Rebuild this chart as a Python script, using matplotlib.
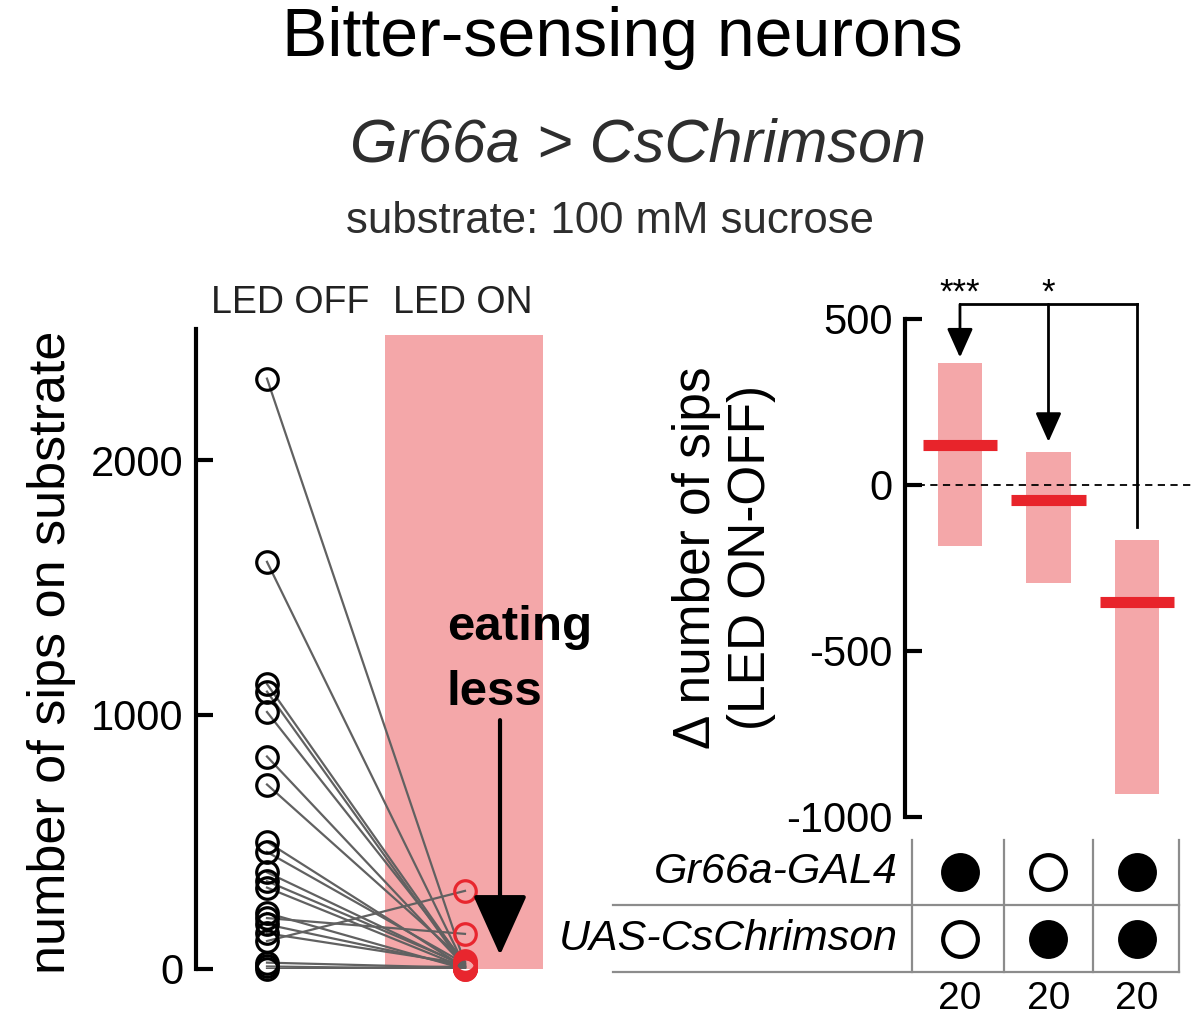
import matplotlib
matplotlib.use('Agg')
import matplotlib.pyplot as plt
from matplotlib.patches import Rectangle

plt.rcParams['font.family'] = ['Liberation Sans', 'DejaVu Sans']

# paired sips per fly (LED OFF -> LED ON)
sips_off = [2320, 1600, 1120, 1090, 1010, 835, 725, 500, 460, 380,
            345, 320, 220, 200, 175, 140, 110, 25, 10, 0]
sips_on = [20, 10, 15, 5, 25, 10, 30, 5, 20, 10,
           15, 5, 0, 138, 10, 20, 307, 5, 0, 10]

# delta (ON - OFF) per genotype: mean and 95% CI
genotypes = ['Gr66a-GAL4 / +', '+ / UAS-CsChrimson', 'Gr66a > CsChrimson']
delta_mean = [120, -45, -353]
delta_low = [-184, -295, -931]
delta_high = [368, 99, -165]
stars = ['***', '*']
gal4 = [1, 0, 1]
uas = [0, 1, 1]
n_flies = [20, 20, 20]

PINK = '#f4a7a9'
RED = '#e8242b'
W, H = 1200, 1023

fig = plt.figure(figsize=(W / 100, H / 100), dpi=100)


def px(x, y, w, h):
    return [x / W, 1 - (y + h) / H, w / W, h / H]


# ---- left panel: paired sips ----
ax = fig.add_axes(px(196, 329, 364, 640))
ax.set_xlim(-0.3586, 1.48)
ax.set_ylim(0, 2515)
ax.add_patch(Rectangle((0.596, -4), 0.798, 2494, color=PINK, lw=0, zorder=0))
for a, b in zip(sips_off, sips_on):
    ax.plot([0, 1], [a, b], color='#616161', lw=1.6, zorder=2)
ax.plot([0] * len(sips_off), sips_off, 'o', mfc='none', mec='k', ms=15.5, mew=2.3,
        clip_on=False, zorder=3)
ax.plot([1] * len(sips_on), sips_on, 'o', mfc='none', mec='#e8262e', ms=15.5, mew=2.3,
        clip_on=False, zorder=3)
for s in ['top', 'right', 'bottom']:
    ax.spines[s].set_visible(False)
ax.spines['left'].set_linewidth(3)
ax.set_xticks([])
ax.set_yticks([0, 1000, 2000])
ax.tick_params(axis='y', direction='in', length=12, width=3, labelsize=30, pad=9)
ax.annotate('', xy=(1.177, 55), xytext=(1.177, 978),
            arrowprops=dict(arrowstyle='-|>,head_length=1.0,head_width=0.45',
                            mutation_scale=38, lw=3, color='k',
                            shrinkA=0, shrinkB=0))

fig.text(447 / W, 1 - 640 / H, 'eating', fontsize=35.5, fontweight='bold',
         ha='left', va='baseline')
fig.text(447 / W, 1 - 705 / H, 'less', fontsize=35.5, fontweight='bold',
         ha='left', va='baseline')
fig.text(290 / W, 1 - 313 / H, 'LED OFF', fontsize=27, ha='center', va='baseline',
         color='#222222')
fig.text(463 / W, 1 - 313 / H, 'LED ON', fontsize=27, ha='center', va='baseline',
         color='#222222')
fig.text(52 / W, 1 - 652 / H, 'number of sips on substrate', fontsize=37.5,
         rotation=90, ha='center', va='center')

# ---- right panel: delta sips ----
ax2 = fig.add_axes(px(905, 319, 290, 498))
ax2.set_xlim(-0.621, 2.655)
ax2.set_ylim(-1000, 500)
xs = list(range(len(delta_mean)))
heights = [h - l for h, l in zip(delta_high, delta_low)]
ax2.bar(xs, heights, bottom=delta_low, width=0.5, color=PINK, zorder=1)
ax2.hlines(delta_mean, [x - 0.42 for x in xs], [x + 0.42 for x in xs],
           color=RED, lw=8, zorder=3)
ax2.axhline(0, color='k', lw=1.3, ls=(0, (4, 3)), zorder=2)
for s in ['top', 'right', 'bottom']:
    ax2.spines[s].set_visible(False)
ax2.spines['left'].set_linewidth(3)
ax2.set_xticks([])
ax2.set_yticks([-1000, -500, 0, 500])
ax2.set_yticklabels(['-1000', '-500', '0', '500'])
ax2.tick_params(axis='y', direction='in', length=12, width=3, labelsize=30, pad=9)

# significance bracket from the experimental group to each control
br = 544
ax2.plot([0, 2], [br, br], color='k', lw=2, clip_on=False)
ax2.plot([2, 2], [br, -128], color='k', lw=2, clip_on=False)
for x, tip, st in zip([0, 1], [384, 130], stars):
    ax2.annotate('', xy=(x, tip), xytext=(x, br), annotation_clip=False,
                 arrowprops=dict(arrowstyle='-|>,head_length=0.85,head_width=0.38',
                                 mutation_scale=21, lw=2, color='k',
                                 shrinkA=0, shrinkB=0))
    ax2.text(x, br + 6, st, fontsize=25, ha='center', va='baseline')

fig.text(724 / W, 1 - 558 / H, '\u0394 number of sips\n(LED ON-OFF)', fontsize=37,
         rotation=90, ha='center', va='center', linespacing=1.15)

# ---- genotype table ----
ax3 = fig.add_axes(px(905, 830, 290, 193))
ax3.set_xlim(-0.621, 2.655)
ax3.set_ylim(2.254, -0.627)
ax3.axis('off')
grid = '#8c8c8c'
for y in [0.5, 1.5]:
    ax3.plot([-3.92, 2.47], [y, y], color=grid, lw=1.6, clip_on=False)
for x in [-0.54, 0.5, 1.5, 2.47]:
    ax3.plot([x, x], [-0.48, 1.5], color=grid, lw=1.6, clip_on=False)
for row, flags in enumerate([gal4, uas]):
    for x, f in zip(xs, flags):
        ax3.plot(x, row, 'o', ms=25, mew=3, mec='k',
                 mfc='k' if f else 'white', clip_on=False)
ax3.text(-0.7, 0, 'Gr66a-GAL4', fontsize=31, style='italic', ha='right',
         va='center', clip_on=False)
ax3.text(-0.7, 1, 'UAS-CsChrimson', fontsize=31, style='italic', ha='right',
         va='center', clip_on=False)
for x, n in zip(xs, n_flies):
    ax3.text(x, 1.9, str(n), fontsize=28, ha='center', va='center')

# ---- titles ----
fig.text(622 / W, 1 - 56 / H, 'Bitter-sensing neurons', fontsize=49,
         ha='center', va='baseline')
fig.text(638 / W, 1 - 162 / H, 'Gr66a > CsChrimson', fontsize=44, style='italic',
         ha='center', va='baseline', color='#2e2e2e')
fig.text(610 / W, 1 - 233 / H, 'substrate: 100 mM sucrose', fontsize=31.5,
         ha='center', va='baseline', color='#2e2e2e')

fig.savefig('out.png', dpi=100)
